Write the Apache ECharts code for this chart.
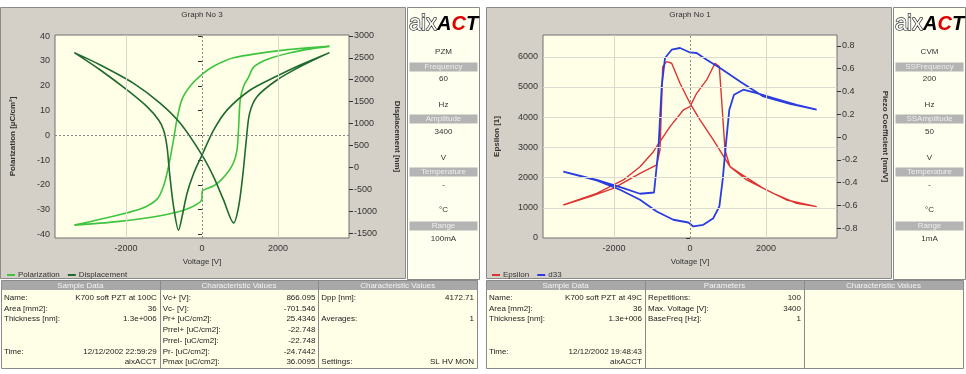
<!DOCTYPE html>
<html><head><meta charset="utf-8">
<script src="https://cdn.jsdelivr.net/npm/echarts@6/dist/echarts.min.js"></script>
<style>html,body{margin:0;padding:0;background:#fff}#c{width:966px;height:374px}</style>
</head><body><div id="c"></div>
<script>
// ---------- tick labels ----------
const voltTicks = [-2000, 0, 2000];
const polTicks = [-40, -30, -20, -10, 0, 10, 20, 30, 40];
const dispTicks = [-1500, -1000, -500, 0, 500, 1000, 1500, 2000, 2500, 3000];
const epsTicks = [0, 1000, 2000, 3000, 4000, 5000, 6000];
const d33Ticks = [-0.8, -0.6, -0.4, -0.2, 0, 0.2, 0.4, 0.6, 0.8];

// ---------- series values [voltage, value] ----------
const polarization = [
  [3356,35.9],[2148,34.4],[832,31.3],[306,27.9],[0,24.6],[-308,19.9],[-526,14.5],[-658,6.5],[-747,-1.6],
  [-879,-12.4],[-1010,-20.4],[-1184,-25.8],[-1624,-29.8],[-2677,-33.9],[-3361,-36.3],
  [-2237,-34.9],[-1097,-32.5],[-395,-29.8],[0,-25.5],[0,-22.8],[300,-20.5],[480,-18.4],[700,-14.5],
  [832,-11],[921,-6],[960,2],[1008,14.5],[1100,20],[1227,23.5],[1358,27.5],[1711,30.6],[2324,33.3],
  [2900,35],[3356,35.9]
];
const displacement = [
  [3356,2618],[2587,2337],[1974,2085],[1271,1766],[658,1307],[306,850],[0,281],[-220,-137],[-395,-594],
  [-526,-1128],[-616,-1432],[-747,-899],[-853,-137],[-921,471],[-1010,850],[-1142,1080],[-1448,1385],
  [-1974,1766],[-2677,2222],[-3361,2618],
  [-2677,2337],[-1800,1918],[-1097,1462],[-571,1005],[0,281],[306,-214],[569,-747],[832,-1265],
  [963,-899],[1079,-137],[1166,624],[1253,1233],[1448,1613],[1974,1994],[2587,2298],[3356,2618]
];
const epsilon = [
  [3335,1037],[2545,1258],[1930,1645],[1316,2142],[1053,2361],[614,3245],[263,3907],[0,4460],[-263,5122],
  [-482,5785],[-614,5838],[-719,5672],[-745,4570],[-790,2914],[-877,2417],[-1316,2142],[-2018,1645],
  [-2632,1368],[-3335,1093],
  [-2456,1480],[-1755,1921],[-1316,2361],[-965,2858],[-526,3686],[-175,4238],[0,4349],[175,4790],
  [439,5232],[658,5785],[772,5672],[833,4570],[921,2914],[1053,2361],[1492,1921],[2193,1480],
  [2808,1148],[3335,1037]
];
const d33 = [
  [3335,0.240],[2632,0.292],[1930,0.356],[1316,0.488],[790,0.605],[439,0.678],[175,0.737],[0,0.742],
  [-263,0.781],[-482,0.766],[-658,0.693],[-745,0.444],[-833,-0.111],[-947,-0.486],[-1316,-0.497],
  [-1755,-0.447],[-2456,-0.375],[-3335,-0.302],
  [-2456,-0.380],[-1842,-0.462],[-1316,-0.550],[-877,-0.653],[-439,-0.725],[-44,-0.749],[88,-0.784],
  [351,-0.769],[614,-0.711],[772,-0.609],[860,-0.375],[948,-0.053],[1035,0.240],[1158,0.371],
  [1404,0.415],[1755,0.386],[2193,0.342],[2808,0.283],[3335,0.240]
];

// ---------- texts ----------
const leftSide = [['PZM','v',52],['Frequency','h',67],['60','v',79],['Hz','v',105],['Amplitude','h',119],['3400','v',132],['V','v',158],['Temperature','h',172],['-','v',185],['°C','v',210],['Range','h',226],['100mA','v',239]];
const rightSide = [['CVM','v',52],['SSFrequency','h',67],['200','v',79],['Hz','v',105],['SSAmplitude','h',119],['50','v',132],['V','v',158],['Temperature','h',172],['-','v',185],['°C','v',210],['Range','h',226],['1mA','v',239]];

const leftTable = {
  heads: ['Sample Data','Characteristic Values','Characteristic Values'],
  cols: [
    [['Name:','K700 soft PZT at 100C'],['Area [mm2]:','36'],['Thickness [nm]:','1.3e+006'],['',''],['',''],['Time:','12/12/2002 22:59:29'],['','aixACCT']],
    [['Vc+ [V]:','866.095'],['Vc- [V]:','-701.546'],['Pr+ [uC/cm2]:','25.4346'],['Prrel+ [uC/cm2]:','-22.748'],['Prrel- [uC/cm2]:','-22.748'],['Pr- [uC/cm2]:','-24.7442'],['Pmax [uC/cm2]:','36.0095']],
    [['Dpp [nm]:','4172.71'],['',''],['Averages:','1'],['',''],['',''],['',''],['Settings:','SL HV MON']]
  ]
};
const rightTable = {
  heads: ['Sample Data','Parameters','Characteristic Values'],
  cols: [
    [['Name:','K700 soft PZT at 49C'],['Area [mm2]:','36'],['Thickness [nm]:','1.3e+006'],['',''],['',''],['Time:','12/12/2002 19:48:43'],['','aixACCT']],
    [['Repetitions:','100'],['Max. Voltage [V]:','3400'],['BaseFreq [Hz]:','1'],['',''],['',''],['',''],['','']],
    []
  ]
};

// ---------- layout ----------
const FONT = "'Liberation Sans', Arial, sans-serif";
const g = [];
function rect(x,y,w,h,fill,stroke,z){ g.push({type:'rect',z:z||-10,silent:true,shape:{x:x,y:y,width:w,height:h},style:{fill:fill,stroke:stroke||null,lineWidth:1}}); }
function line(x1,y1,x2,y2,color,z){ g.push({type:'line',z:z||-9,silent:true,shape:{x1:x1,y1:y1,x2:x2,y2:y2},style:{stroke:color,lineWidth:1}}); }
function text(t,x,y,align,size,color,z,weight){ g.push({type:'text',z:z||5,silent:true,style:{text:t,x:x,y:y,textAlign:align||'left',textVerticalAlign:'middle',fontSize:size||8,fill:color||'#222',fontFamily:FONT,fontWeight:weight||'normal'}}); }

// panels
rect(0.5,7.5,405,271,'#d4d0c8','#8a8a8a');
rect(486.5,7.5,405,271,'#d4d0c8','#8a8a8a');
rect(407.5,7.5,72,272,'#fffff0','#8a8a8a');
rect(893.5,7.5,72,272,'#fffff0','#8a8a8a');
text('Graph No 3',202,15,'center',8,'#333');
text('Graph No 1',690,15,'center',8,'#333');

function sidePanel(x0, items){
  g.push({type:'text',z:6,silent:true,style:{x:x0+36,y:24,textAlign:'center',textVerticalAlign:'middle',
    text:'{a|aix}{b|A}{c|C}{b|T}',
    rich:{a:{fontSize:22,fontFamily:FONT,fill:'#ffffff',stroke:'#333',lineWidth:1.4,fontWeight:'normal'},
          b:{fontSize:20,fontFamily:FONT,fill:'#000',fontWeight:'bold',fontStyle:'italic'},
          c:{fontSize:20,fontFamily:FONT,fill:'#e00000',fontWeight:'bold',fontStyle:'italic'}}}});
  items.forEach(function(it){
    if(it[1]==='h'){ rect(x0+2,it[2]-4.5,68,9,'#b4b4b4',null,-8); text(it[0],x0+36,it[2],'center',8,'#eeeeee',6); }
    else text(it[0],x0+36,it[2],'center',8,'#333');
  });
}
sidePanel(407.5,leftSide);
sidePanel(893.5,rightSide);

const rowsY = [298,308.5,319,330,341,352,362];
function table(x0, w, tb){
  rect(x0+0.5,280.5,w,88,'#ffffe8','#8a8a8a');
  rect(x0+1,281,w-1,9,'#a8a8a8',null,-8);
  const cw = w/3;
  for(let i=1;i<3;i++) line(x0+Math.round(i*cw)+0.5,281,x0+Math.round(i*cw)+0.5,368.5,'#8a8a8a',-7);
  tb.heads.forEach(function(h,i){ text(h,x0+cw*i+cw/2,285.5,'center',8,'#f2f2f2'); });
  tb.cols.forEach(function(col,i){
    const lx = x0+cw*i+3, rx = x0+cw*(i+1)-3;
    col.forEach(function(r,j){
      if(r[0]) text(r[0],lx,rowsY[j],'left',8,'#222');
      if(r[1]) text(r[1],rx,rowsY[j],'right',8,'#222');
    });
  });
}
table(1,476,leftTable);
table(486,477,rightTable);

function gridMarks(xi, yi, extra){
  const d = voltTicks.filter(v=>v!==0).map(v=>({xAxis:v,lineStyle:{color:'#d8d8cc',type:'solid',width:1}}));
  d.push({xAxis:0,lineStyle:{color:'#888',type:[2,2],width:1}});
  return {type:'line',xAxisIndex:xi,yAxisIndex:yi,data:[],z:1,silent:true,
    markLine:{silent:true,symbol:['none','none'],label:{show:false},animation:false,data:d.concat(extra)}};
}

const plain = function(v){ return String(Math.round(v*10)/10); };
const axLabel = {fontSize:9,color:'#333',fontFamily:FONT,formatter:plain};
function xAx(gi){
  return {type:'value',gridIndex:gi,min:-3870,max:3870,
    name:'Voltage [V]',nameLocation:'middle',nameGap:20,nameTextStyle:{fontSize:8,color:'#333',fontFamily:FONT},
    axisLine:{show:false},splitLine:{show:false},
    axisTick:{show:false},
    axisLabel:Object.assign({customValues:voltTicks,margin:6},axLabel)};
}
function yAx(gi,pos,min,max,ticks,name,rot,gap){
  return {type:'value',gridIndex:gi,position:pos,min:min,max:max,
    name:name,nameLocation:'middle',nameGap:gap,nameRotate:rot,nameTextStyle:{fontSize:8,color:'#333',fontFamily:FONT,fontWeight:'bold'},
    axisLine:{show:false},splitLine:{show:false},
    axisTick:{show:true,customValues:ticks,length:4,lineStyle:{color:'#333'}},
    axisLabel:Object.assign({customValues:ticks,margin:5},axLabel)};
}

const option = {
  animation:false,
  graphic:{elements:g},
  grid:[
    {left:55,top:35,width:294,height:203,show:true,backgroundColor:'#ffffe8',borderColor:'#707070',borderWidth:1,z:0},
    {left:543,top:35,width:294,height:203,show:true,backgroundColor:'#ffffe8',borderColor:'#707070',borderWidth:1,z:0}
  ],
  legend:[
    {data:['Polarization','Displacement'],left:2,top:266,icon:'rect',itemWidth:8,itemHeight:2,itemGap:8,
     textStyle:{fontSize:8,color:'#333',fontFamily:FONT,padding:[0,0,0,-2]}},
    {data:['Epsilon','d33'],left:487,top:266,icon:'rect',itemWidth:8,itemHeight:2,itemGap:8,
     textStyle:{fontSize:8,color:'#333',fontFamily:FONT,padding:[0,0,0,-2]}}
  ],
  xAxis:[xAx(0),xAx(1)],
  yAxis:[
    yAx(0,'left',-41.5,40.5,polTicks,'Polarization [µC/cm²]',90,38),
    yAx(0,'right',-1610,3020,dispTicks,'Displacement [nm]',-90,44),
    yAx(1,'left',0,6720,epsTicks,'Epsilon [1]',90,42),
    yAx(1,'right',-0.885,0.895,d33Ticks,'Piezo Coefficient [nm/V]',-90,44)
  ],
  series:[
    gridMarks(0,0,[{yAxis:0,lineStyle:{color:'#888',type:[2,2],width:1}}]),
    gridMarks(1,2,epsTicks.filter(v=>v>0).map(v=>({yAxis:v,lineStyle:{color:'#dedcd0',type:'solid',width:1}}))),
    {name:'Polarization',type:'line',xAxisIndex:0,yAxisIndex:0,data:polarization,showSymbol:false,smooth:0.3,z:3,
     lineStyle:{color:'#3ec43e',width:1.6},itemStyle:{color:'#3ec43e'}},
    {name:'Displacement',type:'line',xAxisIndex:0,yAxisIndex:1,data:displacement,showSymbol:false,smooth:0.3,z:3,
     lineStyle:{color:'#1f6a2e',width:1.6},itemStyle:{color:'#1f6a2e'}},
    {name:'Epsilon',type:'line',xAxisIndex:1,yAxisIndex:2,data:epsilon,showSymbol:false,z:3,
     lineStyle:{color:'#dd3333',width:1.4},itemStyle:{color:'#dd3333'}},
    {name:'d33',type:'line',xAxisIndex:1,yAxisIndex:3,data:d33,showSymbol:false,z:3,
     lineStyle:{color:'#2a3ce0',width:1.8},itemStyle:{color:'#2a3ce0'}}
  ]
};
const chart = echarts.init(document.getElementById('c'),null,{renderer:'canvas'});
chart.setOption(option);
</script></body></html>
